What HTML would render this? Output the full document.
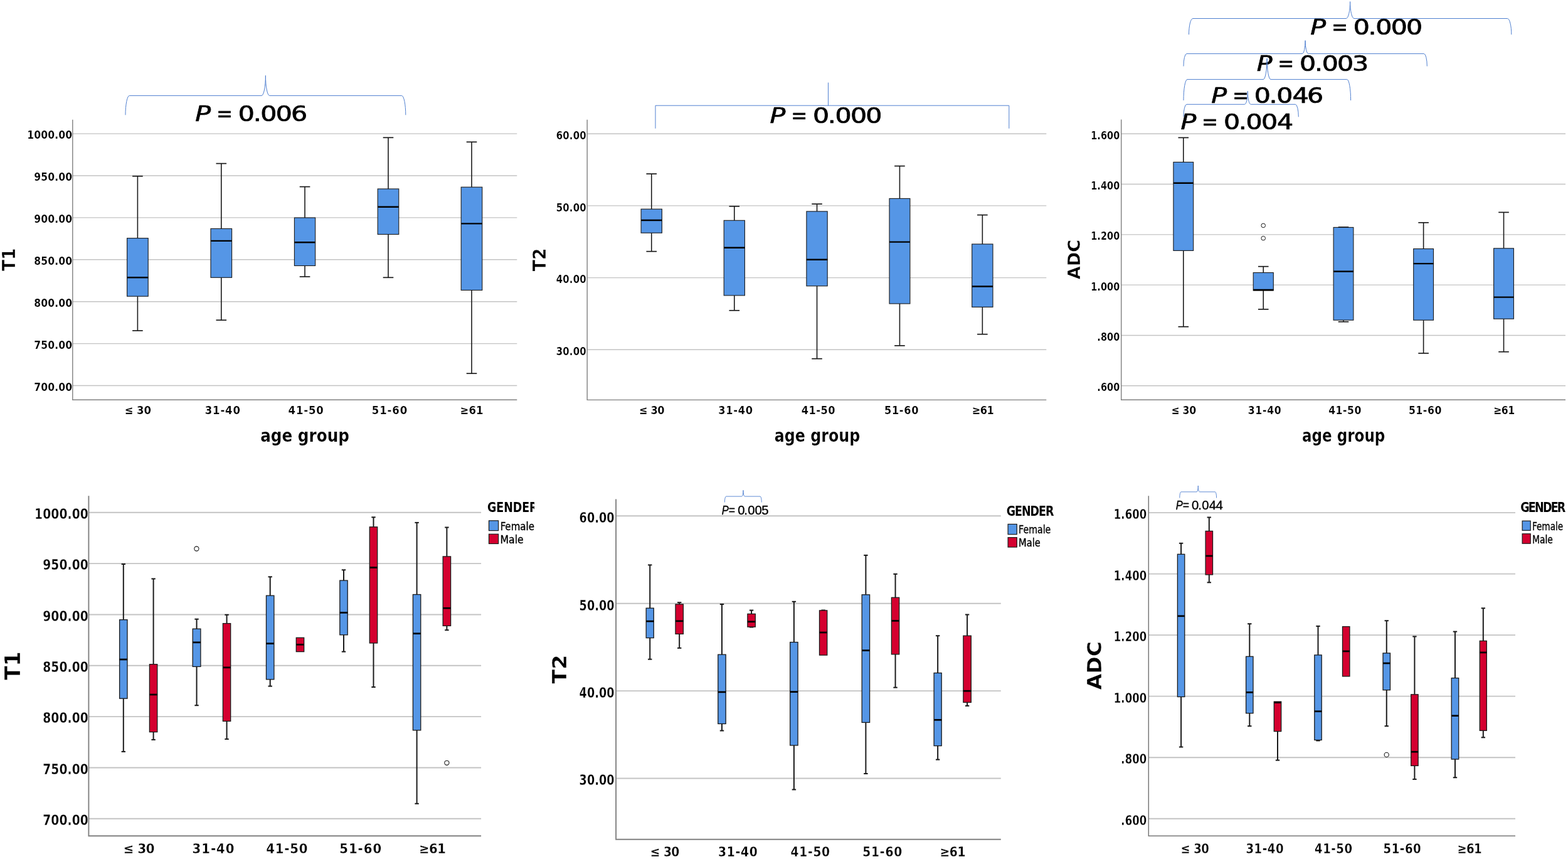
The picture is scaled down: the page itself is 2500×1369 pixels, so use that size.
<!DOCTYPE html>
<html lang="en"><head><meta charset="utf-8"><title>Box plots of T1, T2 and ADC by age group and gender</title>
<style>html,body{margin:0;padding:0;background:#fff;}body{width:2500px;height:1369px;overflow:hidden;}svg{display:block;}</style>
</head><body>
<svg width="2500" height="1369" viewBox="0 0 2500 1369">
<rect width="2500" height="1369" fill="#fff"/>
<g>
<line x1="115.8" y1="213.1" x2="824.3" y2="213.1" stroke="#c3c3c3" stroke-width="1.4"/>
<line x1="115.8" y1="280" x2="824.3" y2="280" stroke="#c3c3c3" stroke-width="1.4"/>
<line x1="115.8" y1="346.9" x2="824.3" y2="346.9" stroke="#c3c3c3" stroke-width="1.4"/>
<line x1="115.8" y1="413.8" x2="824.3" y2="413.8" stroke="#c3c3c3" stroke-width="1.4"/>
<line x1="115.8" y1="480.7" x2="824.3" y2="480.7" stroke="#c3c3c3" stroke-width="1.4"/>
<line x1="115.8" y1="547.6" x2="824.3" y2="547.6" stroke="#c3c3c3" stroke-width="1.4"/>
<line x1="115.8" y1="614.5" x2="824.3" y2="614.5" stroke="#c3c3c3" stroke-width="1.4"/>
<line x1="219.4" y1="280.8" x2="219.4" y2="379.6" stroke="#1a1a1a" stroke-width="1.6"/>
<line x1="211.1" y1="280.8" x2="227.7" y2="280.8" stroke="#1a1a1a" stroke-width="1.7"/>
<line x1="219.4" y1="472.2" x2="219.4" y2="527" stroke="#1a1a1a" stroke-width="1.6"/>
<line x1="211.1" y1="527" x2="227.7" y2="527" stroke="#1a1a1a" stroke-width="1.7"/>
<rect x="202.6" y="379.6" width="33.6" height="92.6" fill="#5596e6" stroke="#1a1a1a" stroke-width="1.1"/>
<line x1="202.6" y1="442.3" x2="236.2" y2="442.3" stroke="#000" stroke-width="2.4"/>
<line x1="352.8" y1="260.6" x2="352.8" y2="364.4" stroke="#1a1a1a" stroke-width="1.6"/>
<line x1="344.5" y1="260.6" x2="361.1" y2="260.6" stroke="#1a1a1a" stroke-width="1.7"/>
<line x1="352.8" y1="442.3" x2="352.8" y2="510.2" stroke="#1a1a1a" stroke-width="1.6"/>
<line x1="344.5" y1="510.2" x2="361.1" y2="510.2" stroke="#1a1a1a" stroke-width="1.7"/>
<rect x="336" y="364.4" width="33.6" height="77.9" fill="#5596e6" stroke="#1a1a1a" stroke-width="1.1"/>
<line x1="336" y1="383.9" x2="369.6" y2="383.9" stroke="#000" stroke-width="2.4"/>
<line x1="486.05" y1="297.6" x2="486.05" y2="347" stroke="#1a1a1a" stroke-width="1.6"/>
<line x1="477.75" y1="297.6" x2="494.35" y2="297.6" stroke="#1a1a1a" stroke-width="1.7"/>
<line x1="486.05" y1="423.5" x2="486.05" y2="441" stroke="#1a1a1a" stroke-width="1.6"/>
<line x1="477.75" y1="441" x2="494.35" y2="441" stroke="#1a1a1a" stroke-width="1.7"/>
<rect x="469.4" y="347" width="33.3" height="76.5" fill="#5596e6" stroke="#1a1a1a" stroke-width="1.1"/>
<line x1="469.4" y1="386.3" x2="502.7" y2="386.3" stroke="#000" stroke-width="2.4"/>
<line x1="619" y1="219.3" x2="619" y2="301" stroke="#1a1a1a" stroke-width="1.6"/>
<line x1="610.7" y1="219.3" x2="627.3" y2="219.3" stroke="#1a1a1a" stroke-width="1.7"/>
<line x1="619" y1="373.5" x2="619" y2="442.3" stroke="#1a1a1a" stroke-width="1.6"/>
<line x1="610.7" y1="442.3" x2="627.3" y2="442.3" stroke="#1a1a1a" stroke-width="1.7"/>
<rect x="602.2" y="301" width="33.6" height="72.5" fill="#5596e6" stroke="#1a1a1a" stroke-width="1.1"/>
<line x1="602.2" y1="329.8" x2="635.8" y2="329.8" stroke="#000" stroke-width="2.4"/>
<line x1="752" y1="226.3" x2="752" y2="298.2" stroke="#1a1a1a" stroke-width="1.6"/>
<line x1="743.7" y1="226.3" x2="760.3" y2="226.3" stroke="#1a1a1a" stroke-width="1.7"/>
<line x1="752" y1="462.5" x2="752" y2="595.2" stroke="#1a1a1a" stroke-width="1.6"/>
<line x1="743.7" y1="595.2" x2="760.3" y2="595.2" stroke="#1a1a1a" stroke-width="1.7"/>
<rect x="735.2" y="298.2" width="33.6" height="164.3" fill="#5596e6" stroke="#1a1a1a" stroke-width="1.1"/>
<line x1="735.2" y1="356.4" x2="768.8" y2="356.4" stroke="#000" stroke-width="2.4"/>
<path d="M115.8 190.7 V637.3 H824.3" fill="none" stroke="#808080" stroke-width="1.4"/>
<text transform="translate(43.24 221.4) scale(0.9496 1)" font-family="'DejaVu Sans Condensed', 'Liberation Sans', sans-serif" font-size="18.3" font-weight="bold" letter-spacing="0.12" stroke="#fff" stroke-width="0.2" xml:space="preserve">1000.00</text>
<text transform="translate(54.24 288.3) scale(0.9496 1)" font-family="'DejaVu Sans Condensed', 'Liberation Sans', sans-serif" font-size="18.3" font-weight="bold" letter-spacing="0.12" stroke="#fff" stroke-width="0.2" xml:space="preserve">950.00</text>
<text transform="translate(54.24 355.2) scale(0.9496 1)" font-family="'DejaVu Sans Condensed', 'Liberation Sans', sans-serif" font-size="18.3" font-weight="bold" letter-spacing="0.12" stroke="#fff" stroke-width="0.2" xml:space="preserve">900.00</text>
<text transform="translate(54.24 422.1) scale(0.9496 1)" font-family="'DejaVu Sans Condensed', 'Liberation Sans', sans-serif" font-size="18.3" font-weight="bold" letter-spacing="0.12" stroke="#fff" stroke-width="0.2" xml:space="preserve">850.00</text>
<text transform="translate(54.24 489) scale(0.9496 1)" font-family="'DejaVu Sans Condensed', 'Liberation Sans', sans-serif" font-size="18.3" font-weight="bold" letter-spacing="0.12" stroke="#fff" stroke-width="0.2" xml:space="preserve">800.00</text>
<text transform="translate(54.24 555.9) scale(0.9496 1)" font-family="'DejaVu Sans Condensed', 'Liberation Sans', sans-serif" font-size="18.3" font-weight="bold" letter-spacing="0.12" stroke="#fff" stroke-width="0.2" xml:space="preserve">750.00</text>
<text transform="translate(54.24 622.8) scale(0.9496 1)" font-family="'DejaVu Sans Condensed', 'Liberation Sans', sans-serif" font-size="18.3" font-weight="bold" letter-spacing="0.12" stroke="#fff" stroke-width="0.2" xml:space="preserve">700.00</text>
<text transform="translate(198.75 660.3) scale(1.0000 1)" font-family="'DejaVu Sans Condensed', 'Liberation Sans', sans-serif" font-size="18.4" font-weight="bold" letter-spacing="-0.14" stroke="#fff" stroke-width="0.2" xml:space="preserve">≤ 30</text>
<text transform="translate(326.69 660.3) scale(1.0000 1)" font-family="'DejaVu Sans Condensed', 'Liberation Sans', sans-serif" font-size="18.4" font-weight="bold" letter-spacing="0.84" stroke="#fff" stroke-width="0.2" xml:space="preserve">31-40</text>
<text transform="translate(459.56 660.3) scale(1.0000 1)" font-family="'DejaVu Sans Condensed', 'Liberation Sans', sans-serif" font-size="18.4" font-weight="bold" letter-spacing="0.84" stroke="#fff" stroke-width="0.2" xml:space="preserve">41-50</text>
<text transform="translate(592.82 660.3) scale(1.0000 1)" font-family="'DejaVu Sans Condensed', 'Liberation Sans', sans-serif" font-size="18.4" font-weight="bold" letter-spacing="0.88" stroke="#fff" stroke-width="0.2" xml:space="preserve">51-60</text>
<text transform="translate(733.45 660.3) scale(1.0000 1)" font-family="'DejaVu Sans Condensed', 'Liberation Sans', sans-serif" font-size="18.4" font-weight="bold" letter-spacing="0.14" stroke="#fff" stroke-width="0.2" xml:space="preserve">≥61</text>
<text transform="translate(415.14 703.8) scale(0.9774 1)" font-family="'DejaVu Sans Condensed', 'Liberation Sans', sans-serif" font-size="28.1" font-weight="bold" stroke="#fff" stroke-width="0.2" xml:space="preserve">age group</text>
<text transform="translate(24.2 432.03) rotate(-90) scale(1.0184 1)" font-family="'DejaVu Sans Condensed', 'Liberation Sans', sans-serif" font-size="28.86" font-weight="bold" stroke="#fff" stroke-width="0.35" xml:space="preserve">T1</text>
</g>
<text transform="translate(0 192.55) scale(1.2493 1)" font-family="'DejaVu Sans', sans-serif" font-size="32.92" stroke="#000" stroke-width="0.7" stroke-linejoin="round" xml:space="preserve"><tspan x="249.2" font-style="italic">P</tspan><tspan x="264.95"> </tspan><tspan x="276.31" textLength="20.49" lengthAdjust="spacingAndGlyphs">=</tspan><tspan x="293.48 303.95 323.09 332.44 351.97 371.38"> 0.006</tspan></text>
<path d="M200 183.3 A6.4 30.9 0 0 1 206.4 152.4 L417 152.4 A6.4 32 0 0 0 423.4 120.4 A6.4 32 0 0 0 429.8 152.4 L640.4 152.4 A6.4 30.9 0 0 1 646.8 183.3" fill="none" stroke="#4f7fd0" stroke-width="1"/>
<g>
<line x1="936.2" y1="213.2" x2="1668.3" y2="213.2" stroke="#c3c3c3" stroke-width="1.4"/>
<line x1="936.2" y1="327.9" x2="1668.3" y2="327.9" stroke="#c3c3c3" stroke-width="1.4"/>
<line x1="936.2" y1="442.6" x2="1668.3" y2="442.6" stroke="#c3c3c3" stroke-width="1.4"/>
<line x1="936.2" y1="557.3" x2="1668.3" y2="557.3" stroke="#c3c3c3" stroke-width="1.4"/>
<line x1="1038.75" y1="277.1" x2="1038.75" y2="333.2" stroke="#1a1a1a" stroke-width="1.6"/>
<line x1="1030.45" y1="277.1" x2="1047.05" y2="277.1" stroke="#1a1a1a" stroke-width="1.7"/>
<line x1="1038.75" y1="371.2" x2="1038.75" y2="400.7" stroke="#1a1a1a" stroke-width="1.6"/>
<line x1="1030.45" y1="400.7" x2="1047.05" y2="400.7" stroke="#1a1a1a" stroke-width="1.7"/>
<rect x="1022.1" y="333.2" width="33.3" height="38" fill="#5596e6" stroke="#1a1a1a" stroke-width="1.1"/>
<line x1="1022.1" y1="351" x2="1055.4" y2="351" stroke="#000" stroke-width="2.4"/>
<line x1="1170.8" y1="328.8" x2="1170.8" y2="351.3" stroke="#1a1a1a" stroke-width="1.6"/>
<line x1="1162.5" y1="328.8" x2="1179.1" y2="328.8" stroke="#1a1a1a" stroke-width="1.7"/>
<line x1="1170.8" y1="470.9" x2="1170.8" y2="494.8" stroke="#1a1a1a" stroke-width="1.6"/>
<line x1="1162.5" y1="494.8" x2="1179.1" y2="494.8" stroke="#1a1a1a" stroke-width="1.7"/>
<rect x="1154.2" y="351.3" width="33.2" height="119.6" fill="#5596e6" stroke="#1a1a1a" stroke-width="1.1"/>
<line x1="1154.2" y1="394.7" x2="1187.4" y2="394.7" stroke="#000" stroke-width="2.4"/>
<line x1="1302.55" y1="325.1" x2="1302.55" y2="336.9" stroke="#1a1a1a" stroke-width="1.6"/>
<line x1="1294.25" y1="325.1" x2="1310.85" y2="325.1" stroke="#1a1a1a" stroke-width="1.7"/>
<line x1="1302.55" y1="455.8" x2="1302.55" y2="571.7" stroke="#1a1a1a" stroke-width="1.6"/>
<line x1="1294.25" y1="571.7" x2="1310.85" y2="571.7" stroke="#1a1a1a" stroke-width="1.7"/>
<rect x="1285.9" y="336.9" width="33.3" height="118.9" fill="#5596e6" stroke="#1a1a1a" stroke-width="1.1"/>
<line x1="1285.9" y1="413.8" x2="1319.2" y2="413.8" stroke="#000" stroke-width="2.4"/>
<line x1="1434.45" y1="264.6" x2="1434.45" y2="316.4" stroke="#1a1a1a" stroke-width="1.6"/>
<line x1="1426.15" y1="264.6" x2="1442.75" y2="264.6" stroke="#1a1a1a" stroke-width="1.7"/>
<line x1="1434.45" y1="484" x2="1434.45" y2="550.9" stroke="#1a1a1a" stroke-width="1.6"/>
<line x1="1426.15" y1="550.9" x2="1442.75" y2="550.9" stroke="#1a1a1a" stroke-width="1.7"/>
<rect x="1418" y="316.4" width="32.9" height="167.6" fill="#5596e6" stroke="#1a1a1a" stroke-width="1.1"/>
<line x1="1418" y1="385.6" x2="1450.9" y2="385.6" stroke="#000" stroke-width="2.4"/>
<line x1="1566.35" y1="342.6" x2="1566.35" y2="389" stroke="#1a1a1a" stroke-width="1.6"/>
<line x1="1558.05" y1="342.6" x2="1574.65" y2="342.6" stroke="#1a1a1a" stroke-width="1.7"/>
<line x1="1566.35" y1="489.4" x2="1566.35" y2="532.7" stroke="#1a1a1a" stroke-width="1.6"/>
<line x1="1558.05" y1="532.7" x2="1574.65" y2="532.7" stroke="#1a1a1a" stroke-width="1.7"/>
<rect x="1549.7" y="389" width="33.3" height="100.4" fill="#5596e6" stroke="#1a1a1a" stroke-width="1.1"/>
<line x1="1549.7" y1="456.5" x2="1583" y2="456.5" stroke="#000" stroke-width="2.4"/>
<path d="M936.2 190.7 V637.4 H1668.3" fill="none" stroke="#808080" stroke-width="1.4"/>
<text transform="translate(886.85 221.8) scale(0.9087 1)" font-family="'DejaVu Sans Condensed', 'Liberation Sans', sans-serif" font-size="18.3" font-weight="bold" letter-spacing="0.12" stroke="#fff" stroke-width="0.2" xml:space="preserve">60.00</text>
<text transform="translate(886.85 336.5) scale(0.9087 1)" font-family="'DejaVu Sans Condensed', 'Liberation Sans', sans-serif" font-size="18.3" font-weight="bold" letter-spacing="0.12" stroke="#fff" stroke-width="0.2" xml:space="preserve">50.00</text>
<text transform="translate(886.85 451.2) scale(0.9087 1)" font-family="'DejaVu Sans Condensed', 'Liberation Sans', sans-serif" font-size="18.3" font-weight="bold" letter-spacing="0.12" stroke="#fff" stroke-width="0.2" xml:space="preserve">40.00</text>
<text transform="translate(886.85 565.9) scale(0.9087 1)" font-family="'DejaVu Sans Condensed', 'Liberation Sans', sans-serif" font-size="18.3" font-weight="bold" letter-spacing="0.12" stroke="#fff" stroke-width="0.2" xml:space="preserve">30.00</text>
<text transform="translate(1019.08 660.4) scale(0.9800 1)" font-family="'DejaVu Sans Condensed', 'Liberation Sans', sans-serif" font-size="18.4" font-weight="bold" letter-spacing="-0.45" stroke="#fff" stroke-width="0.2" xml:space="preserve">≤ 30</text>
<text transform="translate(1145.32 660.4) scale(0.9800 1)" font-family="'DejaVu Sans Condensed', 'Liberation Sans', sans-serif" font-size="18.4" font-weight="bold" letter-spacing="0.7" stroke="#fff" stroke-width="0.2" xml:space="preserve">31-40</text>
<text transform="translate(1277.78 660.4) scale(0.9800 1)" font-family="'DejaVu Sans Condensed', 'Liberation Sans', sans-serif" font-size="18.4" font-weight="bold" letter-spacing="0.51" stroke="#fff" stroke-width="0.2" xml:space="preserve">41-50</text>
<text transform="translate(1409.95 660.4) scale(0.9800 1)" font-family="'DejaVu Sans Condensed', 'Liberation Sans', sans-serif" font-size="18.4" font-weight="bold" letter-spacing="0.67" stroke="#fff" stroke-width="0.2" xml:space="preserve">51-60</text>
<text transform="translate(1549.68 660.4) scale(0.9800 1)" font-family="'DejaVu Sans Condensed', 'Liberation Sans', sans-serif" font-size="18.4" font-weight="bold" letter-spacing="-0.58" stroke="#fff" stroke-width="0.2" xml:space="preserve">≥61</text>
<text transform="translate(1234.78 703.8) scale(0.9403 1)" font-family="'DejaVu Sans Condensed', 'Liberation Sans', sans-serif" font-size="28.1" font-weight="bold" stroke="#fff" stroke-width="0.2" xml:space="preserve">age group</text>
<text transform="translate(869.6 432.13) rotate(-90) scale(1.0320 1)" font-family="'DejaVu Sans Condensed', 'Liberation Sans', sans-serif" font-size="28.46" font-weight="bold" stroke="#fff" stroke-width="0.35" xml:space="preserve">T2</text>
</g>
<path d="M1045 204.8 V168.2 H1608.8 V204.8 M1320.5 168.2 V131.6" fill="none" stroke="#4f7fd0" stroke-width="1"/>
<text transform="translate(0 195.75) scale(1.2493 1)" font-family="'DejaVu Sans', sans-serif" font-size="32.92" stroke="#000" stroke-width="0.7" stroke-linejoin="round" xml:space="preserve"><tspan x="982.57" font-style="italic">P</tspan><tspan x="998.31"> </tspan><tspan x="1009.68" textLength="20.49" lengthAdjust="spacingAndGlyphs">=</tspan><tspan x="1026.85 1037.31 1056.45 1065.81 1085.34 1104.87"> 0.000</tspan></text>
<g>
<line x1="1787.7" y1="213.2" x2="2496" y2="213.2" stroke="#c3c3c3" stroke-width="1.4"/>
<line x1="1787.7" y1="293.52" x2="2496" y2="293.52" stroke="#c3c3c3" stroke-width="1.4"/>
<line x1="1787.7" y1="373.84" x2="2496" y2="373.84" stroke="#c3c3c3" stroke-width="1.4"/>
<line x1="1787.7" y1="454.16" x2="2496" y2="454.16" stroke="#c3c3c3" stroke-width="1.4"/>
<line x1="1787.7" y1="534.48" x2="2496" y2="534.48" stroke="#c3c3c3" stroke-width="1.4"/>
<line x1="1787.7" y1="614.8" x2="2496" y2="614.8" stroke="#c3c3c3" stroke-width="1.4"/>
<line x1="1886.8" y1="219.4" x2="1886.8" y2="258.4" stroke="#1a1a1a" stroke-width="1.6"/>
<line x1="1878.5" y1="219.4" x2="1895.1" y2="219.4" stroke="#1a1a1a" stroke-width="1.7"/>
<line x1="1886.8" y1="399.4" x2="1886.8" y2="520.7" stroke="#1a1a1a" stroke-width="1.6"/>
<line x1="1878.5" y1="520.7" x2="1895.1" y2="520.7" stroke="#1a1a1a" stroke-width="1.7"/>
<rect x="1870.9" y="258.4" width="31.8" height="141" fill="#5596e6" stroke="#1a1a1a" stroke-width="1.1"/>
<line x1="1870.9" y1="291.8" x2="1902.7" y2="291.8" stroke="#000" stroke-width="2.4"/>
<line x1="2014.25" y1="424.7" x2="2014.25" y2="434.5" stroke="#1a1a1a" stroke-width="1.6"/>
<line x1="2005.95" y1="424.7" x2="2022.55" y2="424.7" stroke="#1a1a1a" stroke-width="1.7"/>
<line x1="2014.25" y1="463" x2="2014.25" y2="492.9" stroke="#1a1a1a" stroke-width="1.6"/>
<line x1="2005.95" y1="492.9" x2="2022.55" y2="492.9" stroke="#1a1a1a" stroke-width="1.7"/>
<rect x="1998.2" y="434.5" width="32.1" height="28.5" fill="#5596e6" stroke="#1a1a1a" stroke-width="1.1"/>
<line x1="1998.2" y1="462" x2="2030.3" y2="462" stroke="#000" stroke-width="2.4"/>
<line x1="2142" y1="362" x2="2142" y2="362.4" stroke="#1a1a1a" stroke-width="1.6"/>
<line x1="2133.7" y1="362" x2="2150.3" y2="362" stroke="#1a1a1a" stroke-width="1.7"/>
<line x1="2142" y1="510.2" x2="2142" y2="512.8" stroke="#1a1a1a" stroke-width="1.6"/>
<line x1="2133.7" y1="512.8" x2="2150.3" y2="512.8" stroke="#1a1a1a" stroke-width="1.7"/>
<rect x="2126.1" y="362.4" width="31.8" height="147.8" fill="#5596e6" stroke="#1a1a1a" stroke-width="1.1"/>
<line x1="2126.1" y1="432.6" x2="2157.9" y2="432.6" stroke="#000" stroke-width="2.4"/>
<line x1="2269.6" y1="354.8" x2="2269.6" y2="396.5" stroke="#1a1a1a" stroke-width="1.6"/>
<line x1="2261.3" y1="354.8" x2="2277.9" y2="354.8" stroke="#1a1a1a" stroke-width="1.7"/>
<line x1="2269.6" y1="510.2" x2="2269.6" y2="563" stroke="#1a1a1a" stroke-width="1.6"/>
<line x1="2261.3" y1="563" x2="2277.9" y2="563" stroke="#1a1a1a" stroke-width="1.7"/>
<rect x="2253.7" y="396.5" width="31.8" height="113.7" fill="#5596e6" stroke="#1a1a1a" stroke-width="1.1"/>
<line x1="2253.7" y1="420.1" x2="2285.5" y2="420.1" stroke="#000" stroke-width="2.4"/>
<line x1="2397.5" y1="338.4" x2="2397.5" y2="395.8" stroke="#1a1a1a" stroke-width="1.6"/>
<line x1="2389.2" y1="338.4" x2="2405.8" y2="338.4" stroke="#1a1a1a" stroke-width="1.7"/>
<line x1="2397.5" y1="508.2" x2="2397.5" y2="560.7" stroke="#1a1a1a" stroke-width="1.6"/>
<line x1="2389.2" y1="560.7" x2="2405.8" y2="560.7" stroke="#1a1a1a" stroke-width="1.7"/>
<rect x="2381.6" y="395.8" width="31.8" height="112.4" fill="#5596e6" stroke="#1a1a1a" stroke-width="1.1"/>
<line x1="2381.6" y1="473.6" x2="2413.4" y2="473.6" stroke="#000" stroke-width="2.4"/>
<circle cx="2014.2" cy="359.4" r="3.3" fill="#fff" stroke="#1a1a1a" stroke-width="1"/>
<circle cx="2014.2" cy="379.7" r="3.3" fill="#fff" stroke="#1a1a1a" stroke-width="1"/>
<path d="M1787.7 190.6 V637.3 H2496" fill="none" stroke="#808080" stroke-width="1.4"/>
<text transform="translate(1739.17 221.8) scale(0.9349 1)" font-family="'DejaVu Sans Condensed', 'Liberation Sans', sans-serif" font-size="17.2" font-weight="bold" letter-spacing="0.12" stroke="#fff" stroke-width="0.2" xml:space="preserve">1.600</text>
<text transform="translate(1739.17 302.12) scale(0.9349 1)" font-family="'DejaVu Sans Condensed', 'Liberation Sans', sans-serif" font-size="17.2" font-weight="bold" letter-spacing="0.12" stroke="#fff" stroke-width="0.2" xml:space="preserve">1.400</text>
<text transform="translate(1739.17 382.44) scale(0.9349 1)" font-family="'DejaVu Sans Condensed', 'Liberation Sans', sans-serif" font-size="17.2" font-weight="bold" letter-spacing="0.12" stroke="#fff" stroke-width="0.2" xml:space="preserve">1.200</text>
<text transform="translate(1739.17 462.76) scale(0.9349 1)" font-family="'DejaVu Sans Condensed', 'Liberation Sans', sans-serif" font-size="17.2" font-weight="bold" letter-spacing="0.12" stroke="#fff" stroke-width="0.2" xml:space="preserve">1.000</text>
<text transform="translate(1749.35 543.08) scale(0.9349 1)" font-family="'DejaVu Sans Condensed', 'Liberation Sans', sans-serif" font-size="17.2" font-weight="bold" letter-spacing="0.12" stroke="#fff" stroke-width="0.2" xml:space="preserve">.800</text>
<text transform="translate(1749.35 623.4) scale(0.9349 1)" font-family="'DejaVu Sans Condensed', 'Liberation Sans', sans-serif" font-size="17.2" font-weight="bold" letter-spacing="0.12" stroke="#fff" stroke-width="0.2" xml:space="preserve">.600</text>
<text transform="translate(1867.54 660.4) scale(0.9500 1)" font-family="'DejaVu Sans Condensed', 'Liberation Sans', sans-serif" font-size="18.4" font-weight="bold" letter-spacing="-0.33" stroke="#fff" stroke-width="0.2" xml:space="preserve">≤ 30</text>
<text transform="translate(1989.75 660.4) scale(0.9500 1)" font-family="'DejaVu Sans Condensed', 'Liberation Sans', sans-serif" font-size="18.4" font-weight="bold" letter-spacing="0.71" stroke="#fff" stroke-width="0.2" xml:space="preserve">31-40</text>
<text transform="translate(2118.2 660.4) scale(0.9500 1)" font-family="'DejaVu Sans Condensed', 'Liberation Sans', sans-serif" font-size="18.4" font-weight="bold" letter-spacing="0.51" stroke="#fff" stroke-width="0.2" xml:space="preserve">41-50</text>
<text transform="translate(2245.89 660.4) scale(0.9500 1)" font-family="'DejaVu Sans Condensed', 'Liberation Sans', sans-serif" font-size="18.4" font-weight="bold" letter-spacing="0.57" stroke="#fff" stroke-width="0.2" xml:space="preserve">51-60</text>
<text transform="translate(2381.24 660.4) scale(0.9500 1)" font-family="'DejaVu Sans Condensed', 'Liberation Sans', sans-serif" font-size="18.4" font-weight="bold" letter-spacing="-0.59" stroke="#fff" stroke-width="0.2" xml:space="preserve">≥61</text>
<text transform="translate(2075.91 703.8) scale(0.9130 1)" font-family="'DejaVu Sans Condensed', 'Liberation Sans', sans-serif" font-size="28.1" font-weight="bold" stroke="#fff" stroke-width="0.2" xml:space="preserve">age group</text>
<text transform="translate(1721.6 445.23) rotate(-90) scale(1.1090 1)" font-family="'DejaVu Sans Condensed', 'Liberation Sans', sans-serif" font-size="27.11" font-weight="bold" stroke="#fff" stroke-width="0.35" xml:space="preserve">ADC</text>
</g>
<path d="M1895.5 55.1 A6.4 25.6 0 0 1 1901.9 29.5 L2146.2 29.5 A6.4 26.9 0 0 0 2152.6 2.6 A6.4 26.9 0 0 0 2159 29.5 L2403.4 29.5 A6.4 25.6 0 0 1 2409.8 55.1" fill="none" stroke="#4f7fd0" stroke-width="1"/>
<text transform="translate(0 55.05) scale(1.2493 1)" font-family="'DejaVu Sans', sans-serif" font-size="32.92" stroke="#000" stroke-width="0.7" stroke-linejoin="round" xml:space="preserve"><tspan x="1672.39" font-style="italic">P</tspan><tspan x="1688.13"> </tspan><tspan x="1699.49" textLength="20.49" lengthAdjust="spacingAndGlyphs">=</tspan><tspan x="1716.67 1727.13 1746.27 1755.63 1775.16 1794.69"> 0.000</tspan></text>
<path d="M1887 105.6 A5 20 0 0 1 1892 85.6 L2076.1 85.6 A5 21 0 0 0 2081.1 64.6 A5 21 0 0 0 2086.1 85.6 L2270.3 85.6 A5 20 0 0 1 2275.3 105.6" fill="none" stroke="#4f7fd0" stroke-width="1"/>
<text transform="translate(0 113.05) scale(1.2493 1)" font-family="'DejaVu Sans', sans-serif" font-size="32.92" stroke="#000" stroke-width="0.7" stroke-linejoin="round" xml:space="preserve"><tspan x="1603.87" font-style="italic">P</tspan><tspan x="1619.61"> </tspan><tspan x="1630.98" textLength="20.49" lengthAdjust="spacingAndGlyphs">=</tspan><tspan x="1648.15 1658.61 1677.75 1687.11 1706.64 1725.83"> 0.003</tspan></text>
<path d="M1887 160 A6 33.4 0 0 1 1893 126.6 L2014.1 126.6 A6 33.4 0 0 0 2020.1 93.2 A6 33.4 0 0 0 2026.1 126.6 L2147.6 126.6 A6 33.4 0 0 1 2153.6 160" fill="none" stroke="#4f7fd0" stroke-width="1"/>
<text transform="translate(0 164.25) scale(1.2493 1)" font-family="'DejaVu Sans', sans-serif" font-size="32.92" stroke="#000" stroke-width="0.7" stroke-linejoin="round" xml:space="preserve"><tspan x="1545.92" font-style="italic">P</tspan><tspan x="1561.66"> </tspan><tspan x="1573.02" textLength="20.49" lengthAdjust="spacingAndGlyphs">=</tspan><tspan x="1590.2 1600.66 1619.8 1629.16 1649.25 1668.09"> 0.046</tspan></text>
<path d="M1887 186.3 A5 20 0 0 1 1892 166.3 L1984.3 166.3 A5 20.9 0 0 0 1989.3 145.4 A5 20.9 0 0 0 1994.3 166.3 L2065.3 166.3 A5 20 0 0 1 2070.3 186.3" fill="none" stroke="#4f7fd0" stroke-width="1"/>
<text transform="translate(0 206.25) scale(1.2493 1)" font-family="'DejaVu Sans', sans-serif" font-size="32.92" stroke="#000" stroke-width="0.7" stroke-linejoin="round" xml:space="preserve"><tspan x="1506.85" font-style="italic">P</tspan><tspan x="1522.6"> </tspan><tspan x="1533.96" textLength="20.49" lengthAdjust="spacingAndGlyphs">=</tspan><tspan x="1551.13 1561.6 1580.74 1590.1 1609.63 1629.72"> 0.004</tspan></text>
<g>
<line x1="141.4" y1="816.8" x2="767.1" y2="816.8" stroke="#c3c3c3" stroke-width="1.9"/>
<line x1="141.4" y1="898.13" x2="767.1" y2="898.13" stroke="#c3c3c3" stroke-width="1.9"/>
<line x1="141.4" y1="979.47" x2="767.1" y2="979.47" stroke="#c3c3c3" stroke-width="1.9"/>
<line x1="141.4" y1="1060.8" x2="767.1" y2="1060.8" stroke="#c3c3c3" stroke-width="1.9"/>
<line x1="141.4" y1="1142.13" x2="767.1" y2="1142.13" stroke="#c3c3c3" stroke-width="1.9"/>
<line x1="141.4" y1="1223.47" x2="767.1" y2="1223.47" stroke="#c3c3c3" stroke-width="1.9"/>
<line x1="141.4" y1="1304.8" x2="767.1" y2="1304.8" stroke="#c3c3c3" stroke-width="1.9"/>
<line x1="196.8" y1="899" x2="196.8" y2="987.7" stroke="#1a1a1a" stroke-width="2"/>
<line x1="193.6" y1="899" x2="200" y2="899" stroke="#1a1a1a" stroke-width="2"/>
<line x1="196.8" y1="1113.2" x2="196.8" y2="1197.9" stroke="#1a1a1a" stroke-width="2"/>
<line x1="193.6" y1="1197.9" x2="200" y2="1197.9" stroke="#1a1a1a" stroke-width="2"/>
<rect x="190.6" y="987.7" width="12.4" height="125.5" fill="#5596e6" stroke="#1a1a1a" stroke-width="1.3"/>
<line x1="190.6" y1="1051" x2="203" y2="1051" stroke="#000" stroke-width="2.7"/>
<line x1="244.6" y1="922.4" x2="244.6" y2="1058.7" stroke="#1a1a1a" stroke-width="2"/>
<line x1="241.4" y1="922.4" x2="247.8" y2="922.4" stroke="#1a1a1a" stroke-width="2"/>
<line x1="244.6" y1="1166.6" x2="244.6" y2="1178.9" stroke="#1a1a1a" stroke-width="2"/>
<line x1="241.4" y1="1178.9" x2="247.8" y2="1178.9" stroke="#1a1a1a" stroke-width="2"/>
<rect x="238.4" y="1058.7" width="12.4" height="107.9" fill="#d4002f" stroke="#1a1a1a" stroke-width="1.3"/>
<line x1="238.4" y1="1107" x2="250.8" y2="1107" stroke="#000" stroke-width="2.7"/>
<line x1="313.55" y1="986.7" x2="313.55" y2="1002.2" stroke="#1a1a1a" stroke-width="2"/>
<line x1="310.35" y1="986.7" x2="316.75" y2="986.7" stroke="#1a1a1a" stroke-width="2"/>
<line x1="313.55" y1="1062.4" x2="313.55" y2="1124.2" stroke="#1a1a1a" stroke-width="2"/>
<line x1="310.35" y1="1124.2" x2="316.75" y2="1124.2" stroke="#1a1a1a" stroke-width="2"/>
<rect x="307.2" y="1002.2" width="12.7" height="60.2" fill="#5596e6" stroke="#1a1a1a" stroke-width="1.3"/>
<line x1="307.2" y1="1023.8" x2="319.9" y2="1023.8" stroke="#000" stroke-width="2.7"/>
<line x1="361.55" y1="979.8" x2="361.55" y2="993.6" stroke="#1a1a1a" stroke-width="2"/>
<line x1="358.35" y1="979.8" x2="364.75" y2="979.8" stroke="#1a1a1a" stroke-width="2"/>
<line x1="361.55" y1="1149.4" x2="361.55" y2="1177.9" stroke="#1a1a1a" stroke-width="2"/>
<line x1="358.35" y1="1177.9" x2="364.75" y2="1177.9" stroke="#1a1a1a" stroke-width="2"/>
<rect x="355.4" y="993.6" width="12.3" height="155.8" fill="#d4002f" stroke="#1a1a1a" stroke-width="1.3"/>
<line x1="355.4" y1="1063.8" x2="367.7" y2="1063.8" stroke="#000" stroke-width="2.7"/>
<line x1="430.7" y1="919.3" x2="430.7" y2="949.2" stroke="#1a1a1a" stroke-width="2"/>
<line x1="427.5" y1="919.3" x2="433.9" y2="919.3" stroke="#1a1a1a" stroke-width="2"/>
<line x1="430.7" y1="1082.8" x2="430.7" y2="1093.6" stroke="#1a1a1a" stroke-width="2"/>
<line x1="427.5" y1="1093.6" x2="433.9" y2="1093.6" stroke="#1a1a1a" stroke-width="2"/>
<rect x="424.5" y="949.2" width="12.4" height="133.6" fill="#5596e6" stroke="#1a1a1a" stroke-width="1.3"/>
<line x1="424.5" y1="1025.6" x2="436.9" y2="1025.6" stroke="#000" stroke-width="2.7"/>
<rect x="472.3" y="1016.3" width="12.4" height="22.3" fill="#d4002f" stroke="#1a1a1a" stroke-width="1.3"/>
<line x1="472.3" y1="1027.3" x2="484.7" y2="1027.3" stroke="#000" stroke-width="2.7"/>
<line x1="548" y1="908.3" x2="548" y2="925.1" stroke="#1a1a1a" stroke-width="2"/>
<line x1="544.8" y1="908.3" x2="551.2" y2="908.3" stroke="#1a1a1a" stroke-width="2"/>
<line x1="548" y1="1011.8" x2="548" y2="1038.6" stroke="#1a1a1a" stroke-width="2"/>
<line x1="544.8" y1="1038.6" x2="551.2" y2="1038.6" stroke="#1a1a1a" stroke-width="2"/>
<rect x="541.8" y="925.1" width="12.4" height="86.7" fill="#5596e6" stroke="#1a1a1a" stroke-width="1.3"/>
<line x1="541.8" y1="976.4" x2="554.2" y2="976.4" stroke="#000" stroke-width="2.7"/>
<line x1="595.5" y1="824.3" x2="595.5" y2="839.8" stroke="#1a1a1a" stroke-width="2"/>
<line x1="592.3" y1="824.3" x2="598.7" y2="824.3" stroke="#1a1a1a" stroke-width="2"/>
<line x1="595.5" y1="1024.9" x2="595.5" y2="1095" stroke="#1a1a1a" stroke-width="2"/>
<line x1="592.3" y1="1095" x2="598.7" y2="1095" stroke="#1a1a1a" stroke-width="2"/>
<rect x="589.3" y="839.8" width="12.4" height="185.1" fill="#d4002f" stroke="#1a1a1a" stroke-width="1.3"/>
<line x1="589.3" y1="904.5" x2="601.7" y2="904.5" stroke="#000" stroke-width="2.7"/>
<line x1="664.6" y1="832.9" x2="664.6" y2="947.5" stroke="#1a1a1a" stroke-width="2"/>
<line x1="661.4" y1="832.9" x2="667.8" y2="832.9" stroke="#1a1a1a" stroke-width="2"/>
<line x1="664.6" y1="1163.8" x2="664.6" y2="1280.8" stroke="#1a1a1a" stroke-width="2"/>
<line x1="661.4" y1="1280.8" x2="667.8" y2="1280.8" stroke="#1a1a1a" stroke-width="2"/>
<rect x="658.4" y="947.5" width="12.4" height="216.3" fill="#5596e6" stroke="#1a1a1a" stroke-width="1.3"/>
<line x1="658.4" y1="1009.7" x2="670.8" y2="1009.7" stroke="#000" stroke-width="2.7"/>
<line x1="712.4" y1="840.5" x2="712.4" y2="886.9" stroke="#1a1a1a" stroke-width="2"/>
<line x1="709.2" y1="840.5" x2="715.6" y2="840.5" stroke="#1a1a1a" stroke-width="2"/>
<line x1="712.4" y1="997.4" x2="712.4" y2="1004.2" stroke="#1a1a1a" stroke-width="2"/>
<line x1="709.2" y1="1004.2" x2="715.6" y2="1004.2" stroke="#1a1a1a" stroke-width="2"/>
<rect x="706.2" y="886.9" width="12.4" height="110.5" fill="#d4002f" stroke="#1a1a1a" stroke-width="1.3"/>
<line x1="706.2" y1="969.2" x2="718.6" y2="969.2" stroke="#000" stroke-width="2.7"/>
<circle cx="313.4" cy="874.5" r="3.6" fill="#fff" stroke="#1a1a1a" stroke-width="1.1"/>
<circle cx="712.4" cy="1215.8" r="3.6" fill="#fff" stroke="#1a1a1a" stroke-width="1.1"/>
<path d="M141.4 790.3 V1332.3 H767.1" fill="none" stroke="#808080" stroke-width="1.9"/>
<text transform="translate(55.1 827.1) scale(0.9356 1)" font-family="'DejaVu Sans Condensed', 'Liberation Sans', sans-serif" font-size="22.2" font-weight="bold" letter-spacing="0.12" stroke="#fff" stroke-width="0.3" xml:space="preserve">1000.00</text>
<text transform="translate(68.21 908.43) scale(0.9356 1)" font-family="'DejaVu Sans Condensed', 'Liberation Sans', sans-serif" font-size="22.2" font-weight="bold" letter-spacing="0.12" stroke="#fff" stroke-width="0.3" xml:space="preserve">950.00</text>
<text transform="translate(68.21 989.77) scale(0.9356 1)" font-family="'DejaVu Sans Condensed', 'Liberation Sans', sans-serif" font-size="22.2" font-weight="bold" letter-spacing="0.12" stroke="#fff" stroke-width="0.3" xml:space="preserve">900.00</text>
<text transform="translate(68.21 1071.1) scale(0.9356 1)" font-family="'DejaVu Sans Condensed', 'Liberation Sans', sans-serif" font-size="22.2" font-weight="bold" letter-spacing="0.12" stroke="#fff" stroke-width="0.3" xml:space="preserve">850.00</text>
<text transform="translate(68.21 1152.43) scale(0.9356 1)" font-family="'DejaVu Sans Condensed', 'Liberation Sans', sans-serif" font-size="22.2" font-weight="bold" letter-spacing="0.12" stroke="#fff" stroke-width="0.3" xml:space="preserve">800.00</text>
<text transform="translate(68.21 1233.77) scale(0.9356 1)" font-family="'DejaVu Sans Condensed', 'Liberation Sans', sans-serif" font-size="22.2" font-weight="bold" letter-spacing="0.12" stroke="#fff" stroke-width="0.3" xml:space="preserve">750.00</text>
<text transform="translate(68.21 1315.1) scale(0.9356 1)" font-family="'DejaVu Sans Condensed', 'Liberation Sans', sans-serif" font-size="22.2" font-weight="bold" letter-spacing="0.12" stroke="#fff" stroke-width="0.3" xml:space="preserve">700.00</text>
<text transform="translate(196.71 1360) scale(1.0000 1)" font-family="'DejaVu Sans Condensed', 'Liberation Sans', sans-serif" font-size="21.9" font-weight="bold" letter-spacing="-0.32" stroke="#fff" stroke-width="0.3" xml:space="preserve">≤ 30</text>
<text transform="translate(306.58 1360) scale(1.0000 1)" font-family="'DejaVu Sans Condensed', 'Liberation Sans', sans-serif" font-size="21.9" font-weight="bold" letter-spacing="0.96" stroke="#fff" stroke-width="0.3" xml:space="preserve">31-40</text>
<text transform="translate(424.32 1360) scale(1.0000 1)" font-family="'DejaVu Sans Condensed', 'Liberation Sans', sans-serif" font-size="21.9" font-weight="bold" letter-spacing="0.77" stroke="#fff" stroke-width="0.3" xml:space="preserve">41-50</text>
<text transform="translate(541.28 1360) scale(1.0000 1)" font-family="'DejaVu Sans Condensed', 'Liberation Sans', sans-serif" font-size="21.9" font-weight="bold" letter-spacing="0.96" stroke="#fff" stroke-width="0.3" xml:space="preserve">51-60</text>
<text transform="translate(668.01 1360) scale(1.0000 1)" font-family="'DejaVu Sans Condensed', 'Liberation Sans', sans-serif" font-size="21.9" font-weight="bold" letter-spacing="-0.45" stroke="#fff" stroke-width="0.3" xml:space="preserve">≥61</text>
<text transform="translate(32 1083.86) rotate(-90) scale(1.1068 1)" font-family="'DejaVu Sans Condensed', 'Liberation Sans', sans-serif" font-size="33.02" font-weight="bold" stroke="#fff" stroke-width="0.35" xml:space="preserve">T1</text>
</g>
<clipPath id="c4"><rect x="0" y="760" width="852" height="140"/></clipPath>
<g clip-path="url(#c4)">
<text transform="translate(776.94 816.3) scale(0.8800 1)" font-family="'DejaVu Sans Condensed', 'Liberation Sans', sans-serif" font-size="22.1" font-weight="bold" letter-spacing="-0.05" xml:space="preserve">GENDER</text>
<rect x="779.5" y="829.8" width="15.1" height="15.8" fill="#5596e6" stroke="#1a1a1a" stroke-width="1.2"/>
<rect x="779.5" y="851.2" width="15.1" height="15.3" fill="#d4002f" stroke="#1a1a1a" stroke-width="1.2"/>
<text transform="translate(797.63 844.6) scale(0.9402 1)" font-family="'DejaVu Sans Condensed', 'Liberation Sans', sans-serif" font-size="17.8" stroke="#000" stroke-width="0.35" xml:space="preserve">Female</text>
<text transform="translate(797.56 865.7) scale(0.9825 1)" font-family="'DejaVu Sans Condensed', 'Liberation Sans', sans-serif" font-size="17.8" stroke="#000" stroke-width="0.35" xml:space="preserve">Male</text>
</g>
<g>
<line x1="982.1" y1="822.3" x2="1595.8" y2="822.3" stroke="#c3c3c3" stroke-width="1.9"/>
<line x1="982.1" y1="961.7" x2="1595.8" y2="961.7" stroke="#c3c3c3" stroke-width="1.9"/>
<line x1="982.1" y1="1101.1" x2="1595.8" y2="1101.1" stroke="#c3c3c3" stroke-width="1.9"/>
<line x1="982.1" y1="1240.5" x2="1595.8" y2="1240.5" stroke="#c3c3c3" stroke-width="1.9"/>
<line x1="1036.25" y1="900.4" x2="1036.25" y2="969.2" stroke="#1a1a1a" stroke-width="2"/>
<line x1="1033.05" y1="900.4" x2="1039.45" y2="900.4" stroke="#1a1a1a" stroke-width="2"/>
<line x1="1036.25" y1="1016.6" x2="1036.25" y2="1050.7" stroke="#1a1a1a" stroke-width="2"/>
<line x1="1033.05" y1="1050.7" x2="1039.45" y2="1050.7" stroke="#1a1a1a" stroke-width="2"/>
<rect x="1030.2" y="969.2" width="12.1" height="47.4" fill="#5596e6" stroke="#1a1a1a" stroke-width="1.3"/>
<line x1="1030.2" y1="990.1" x2="1042.3" y2="990.1" stroke="#000" stroke-width="2.7"/>
<line x1="1083.2" y1="960.2" x2="1083.2" y2="963" stroke="#1a1a1a" stroke-width="2"/>
<line x1="1080" y1="960.2" x2="1086.4" y2="960.2" stroke="#1a1a1a" stroke-width="2"/>
<line x1="1083.2" y1="1010.4" x2="1083.2" y2="1032.8" stroke="#1a1a1a" stroke-width="2"/>
<line x1="1080" y1="1032.8" x2="1086.4" y2="1032.8" stroke="#1a1a1a" stroke-width="2"/>
<rect x="1077" y="963" width="12.4" height="47.4" fill="#d4002f" stroke="#1a1a1a" stroke-width="1.3"/>
<line x1="1077" y1="989.8" x2="1089.4" y2="989.8" stroke="#000" stroke-width="2.7"/>
<line x1="1151" y1="963" x2="1151" y2="1043.2" stroke="#1a1a1a" stroke-width="2"/>
<line x1="1147.8" y1="963" x2="1154.2" y2="963" stroke="#1a1a1a" stroke-width="2"/>
<line x1="1151" y1="1153.5" x2="1151" y2="1164.5" stroke="#1a1a1a" stroke-width="2"/>
<line x1="1147.8" y1="1164.5" x2="1154.2" y2="1164.5" stroke="#1a1a1a" stroke-width="2"/>
<rect x="1144.8" y="1043.2" width="12.4" height="110.3" fill="#5596e6" stroke="#1a1a1a" stroke-width="1.3"/>
<line x1="1144.8" y1="1102.9" x2="1157.2" y2="1102.9" stroke="#000" stroke-width="2.7"/>
<line x1="1198.1" y1="972.6" x2="1198.1" y2="978.4" stroke="#1a1a1a" stroke-width="2"/>
<line x1="1194.9" y1="972.6" x2="1201.3" y2="972.6" stroke="#1a1a1a" stroke-width="2"/>
<line x1="1198.1" y1="999.1" x2="1198.1" y2="999.5" stroke="#1a1a1a" stroke-width="2"/>
<line x1="1194.9" y1="999.5" x2="1201.3" y2="999.5" stroke="#1a1a1a" stroke-width="2"/>
<rect x="1191.9" y="978.4" width="12.4" height="20.7" fill="#d4002f" stroke="#1a1a1a" stroke-width="1.3"/>
<line x1="1191.9" y1="990.8" x2="1204.3" y2="990.8" stroke="#000" stroke-width="2.7"/>
<line x1="1265.9" y1="958.8" x2="1265.9" y2="1023.5" stroke="#1a1a1a" stroke-width="2"/>
<line x1="1262.7" y1="958.8" x2="1269.1" y2="958.8" stroke="#1a1a1a" stroke-width="2"/>
<line x1="1265.9" y1="1187.9" x2="1265.9" y2="1258.4" stroke="#1a1a1a" stroke-width="2"/>
<line x1="1262.7" y1="1258.4" x2="1269.1" y2="1258.4" stroke="#1a1a1a" stroke-width="2"/>
<rect x="1259.7" y="1023.5" width="12.4" height="164.4" fill="#5596e6" stroke="#1a1a1a" stroke-width="1.3"/>
<line x1="1259.7" y1="1102.6" x2="1272.1" y2="1102.6" stroke="#000" stroke-width="2.7"/>
<line x1="1312.65" y1="972.5" x2="1312.65" y2="972.9" stroke="#1a1a1a" stroke-width="2"/>
<line x1="1309.45" y1="972.5" x2="1315.85" y2="972.5" stroke="#1a1a1a" stroke-width="2"/>
<rect x="1306.5" y="972.9" width="12.3" height="71.2" fill="#d4002f" stroke="#1a1a1a" stroke-width="1.3"/>
<line x1="1306.5" y1="1008" x2="1318.8" y2="1008" stroke="#000" stroke-width="2.7"/>
<line x1="1380.4" y1="884.9" x2="1380.4" y2="947.8" stroke="#1a1a1a" stroke-width="2"/>
<line x1="1377.2" y1="884.9" x2="1383.6" y2="884.9" stroke="#1a1a1a" stroke-width="2"/>
<line x1="1380.4" y1="1151.4" x2="1380.4" y2="1233" stroke="#1a1a1a" stroke-width="2"/>
<line x1="1377.2" y1="1233" x2="1383.6" y2="1233" stroke="#1a1a1a" stroke-width="2"/>
<rect x="1374.2" y="947.8" width="12.4" height="203.6" fill="#5596e6" stroke="#1a1a1a" stroke-width="1.3"/>
<line x1="1374.2" y1="1036.6" x2="1386.6" y2="1036.6" stroke="#000" stroke-width="2.7"/>
<line x1="1427.55" y1="914.8" x2="1427.55" y2="952.3" stroke="#1a1a1a" stroke-width="2"/>
<line x1="1424.35" y1="914.8" x2="1430.75" y2="914.8" stroke="#1a1a1a" stroke-width="2"/>
<line x1="1427.55" y1="1042.8" x2="1427.55" y2="1095.7" stroke="#1a1a1a" stroke-width="2"/>
<line x1="1424.35" y1="1095.7" x2="1430.75" y2="1095.7" stroke="#1a1a1a" stroke-width="2"/>
<rect x="1421.4" y="952.3" width="12.3" height="90.5" fill="#d4002f" stroke="#1a1a1a" stroke-width="1.3"/>
<line x1="1421.4" y1="989.4" x2="1433.7" y2="989.4" stroke="#000" stroke-width="2.7"/>
<line x1="1495.15" y1="1013.2" x2="1495.15" y2="1072.5" stroke="#1a1a1a" stroke-width="2"/>
<line x1="1491.95" y1="1013.2" x2="1498.35" y2="1013.2" stroke="#1a1a1a" stroke-width="2"/>
<line x1="1495.15" y1="1188.6" x2="1495.15" y2="1210.6" stroke="#1a1a1a" stroke-width="2"/>
<line x1="1491.95" y1="1210.6" x2="1498.35" y2="1210.6" stroke="#1a1a1a" stroke-width="2"/>
<rect x="1489.1" y="1072.5" width="12.1" height="116.1" fill="#5596e6" stroke="#1a1a1a" stroke-width="1.3"/>
<line x1="1489.1" y1="1147.3" x2="1501.2" y2="1147.3" stroke="#000" stroke-width="2.7"/>
<line x1="1542.1" y1="979.5" x2="1542.1" y2="1013.2" stroke="#1a1a1a" stroke-width="2"/>
<line x1="1538.9" y1="979.5" x2="1545.3" y2="979.5" stroke="#1a1a1a" stroke-width="2"/>
<line x1="1542.1" y1="1119.4" x2="1542.1" y2="1124.9" stroke="#1a1a1a" stroke-width="2"/>
<line x1="1538.9" y1="1124.9" x2="1545.3" y2="1124.9" stroke="#1a1a1a" stroke-width="2"/>
<rect x="1535.9" y="1013.2" width="12.4" height="106.2" fill="#d4002f" stroke="#1a1a1a" stroke-width="1.3"/>
<line x1="1535.9" y1="1101.2" x2="1548.3" y2="1101.2" stroke="#000" stroke-width="2.7"/>
<path d="M982.1 795.4 V1337.7 H1595.8" fill="none" stroke="#808080" stroke-width="1.9"/>
<text transform="translate(923.62 833.1) scale(0.8799 1)" font-family="'DejaVu Sans Condensed', 'Liberation Sans', sans-serif" font-size="22.2" font-weight="bold" letter-spacing="0.12" stroke="#fff" stroke-width="0.3" xml:space="preserve">60.00</text>
<text transform="translate(923.62 972.5) scale(0.8799 1)" font-family="'DejaVu Sans Condensed', 'Liberation Sans', sans-serif" font-size="22.2" font-weight="bold" letter-spacing="0.12" stroke="#fff" stroke-width="0.3" xml:space="preserve">50.00</text>
<text transform="translate(923.62 1111.9) scale(0.8799 1)" font-family="'DejaVu Sans Condensed', 'Liberation Sans', sans-serif" font-size="22.2" font-weight="bold" letter-spacing="0.12" stroke="#fff" stroke-width="0.3" xml:space="preserve">40.00</text>
<text transform="translate(923.62 1251.3) scale(0.8799 1)" font-family="'DejaVu Sans Condensed', 'Liberation Sans', sans-serif" font-size="22.2" font-weight="bold" letter-spacing="0.12" stroke="#fff" stroke-width="0.3" xml:space="preserve">30.00</text>
<text transform="translate(1036.82 1364.8) scale(0.9500 1)" font-family="'DejaVu Sans Condensed', 'Liberation Sans', sans-serif" font-size="21.9" font-weight="bold" letter-spacing="-0.59" stroke="#fff" stroke-width="0.3" xml:space="preserve">≤ 30</text>
<text transform="translate(1144.95 1364.8) scale(0.9500 1)" font-family="'DejaVu Sans Condensed', 'Liberation Sans', sans-serif" font-size="21.9" font-weight="bold" letter-spacing="0.81" stroke="#fff" stroke-width="0.3" xml:space="preserve">31-40</text>
<text transform="translate(1260.57 1364.8) scale(0.9500 1)" font-family="'DejaVu Sans Condensed', 'Liberation Sans', sans-serif" font-size="21.9" font-weight="bold" letter-spacing="0.72" stroke="#fff" stroke-width="0.3" xml:space="preserve">41-50</text>
<text transform="translate(1375.16 1364.8) scale(0.9500 1)" font-family="'DejaVu Sans Condensed', 'Liberation Sans', sans-serif" font-size="21.9" font-weight="bold" letter-spacing="0.88" stroke="#fff" stroke-width="0.3" xml:space="preserve">51-60</text>
<text transform="translate(1498.52 1364.8) scale(0.9500 1)" font-family="'DejaVu Sans Condensed', 'Liberation Sans', sans-serif" font-size="21.9" font-weight="bold" letter-spacing="-0.35" stroke="#fff" stroke-width="0.3" xml:space="preserve">≥61</text>
<text transform="translate(902.5 1089.56) rotate(-90) scale(1.1648 1)" font-family="'DejaVu Sans Condensed', 'Liberation Sans', sans-serif" font-size="31.81" font-weight="bold" stroke="#fff" stroke-width="0.35" xml:space="preserve">T2</text>
</g>
<path d="M1155.4 800.6 A2.2 9.5 0 0 1 1157.6 791.1 L1182.8 791.1 A2.2 9.8 0 0 0 1185 781.3 A2.2 9.8 0 0 0 1187.2 791.1 L1212.1 791.1 A2.2 9.5 0 0 1 1214.3 800.6" fill="none" stroke="#4f7fd0" stroke-width="0.9"/>
<text transform="translate(0 819.73) scale(1.0290 1)" font-family="'Liberation Sans', sans-serif" font-size="19.8" stroke="#000" stroke-width="0.35" stroke-linejoin="round" xml:space="preserve"><tspan x="1118.29" font-style="italic" textLength="10.74" lengthAdjust="spacingAndGlyphs">P</tspan><tspan x="1128.93" textLength="9.98" lengthAdjust="spacingAndGlyphs">=</tspan><tspan x="1137.49 1142.99 1152.93 1158.63 1169.61 1180.09"> 0.005</tspan></text>
<clipPath id="c5"><rect x="0" y="760" width="1680.6" height="140"/></clipPath>
<g clip-path="url(#c5)">
<text transform="translate(1604.64 821.9) scale(0.8800 1)" font-family="'DejaVu Sans Condensed', 'Liberation Sans', sans-serif" font-size="22.1" font-weight="bold" letter-spacing="-1.16" xml:space="preserve">GENDER</text>
<rect x="1607.1" y="835.4" width="14.2" height="16.2" fill="#5596e6" stroke="#1a1a1a" stroke-width="1.2"/>
<rect x="1607.1" y="856.6" width="14.2" height="15.4" fill="#d4002f" stroke="#1a1a1a" stroke-width="1.2"/>
<text transform="translate(1624.11 850.3) scale(0.8870 1)" font-family="'DejaVu Sans Condensed', 'Liberation Sans', sans-serif" font-size="17.8" stroke="#000" stroke-width="0.35" xml:space="preserve">Female</text>
<text transform="translate(1624.06 871) scale(0.9177 1)" font-family="'DejaVu Sans Condensed', 'Liberation Sans', sans-serif" font-size="17.8" stroke="#000" stroke-width="0.35" xml:space="preserve">Male</text>
</g>
<g>
<line x1="1831.3" y1="817.1" x2="2416" y2="817.1" stroke="#c3c3c3" stroke-width="1.9"/>
<line x1="1831.3" y1="914.62" x2="2416" y2="914.62" stroke="#c3c3c3" stroke-width="1.9"/>
<line x1="1831.3" y1="1012.14" x2="2416" y2="1012.14" stroke="#c3c3c3" stroke-width="1.9"/>
<line x1="1831.3" y1="1109.66" x2="2416" y2="1109.66" stroke="#c3c3c3" stroke-width="1.9"/>
<line x1="1831.3" y1="1207.18" x2="2416" y2="1207.18" stroke="#c3c3c3" stroke-width="1.9"/>
<line x1="1831.3" y1="1304.7" x2="2416" y2="1304.7" stroke="#c3c3c3" stroke-width="1.9"/>
<line x1="1883.1" y1="865.8" x2="1883.1" y2="883.3" stroke="#1a1a1a" stroke-width="2"/>
<line x1="1879.9" y1="865.8" x2="1886.3" y2="865.8" stroke="#1a1a1a" stroke-width="2"/>
<line x1="1883.1" y1="1110.5" x2="1883.1" y2="1190.5" stroke="#1a1a1a" stroke-width="2"/>
<line x1="1879.9" y1="1190.5" x2="1886.3" y2="1190.5" stroke="#1a1a1a" stroke-width="2"/>
<rect x="1877.4" y="883.3" width="11.4" height="227.2" fill="#5596e6" stroke="#1a1a1a" stroke-width="1.3"/>
<line x1="1877.4" y1="981.8" x2="1888.8" y2="981.8" stroke="#000" stroke-width="2.7"/>
<line x1="1927.8" y1="824.5" x2="1927.8" y2="846.4" stroke="#1a1a1a" stroke-width="2"/>
<line x1="1924.6" y1="824.5" x2="1931" y2="824.5" stroke="#1a1a1a" stroke-width="2"/>
<line x1="1927.8" y1="915.9" x2="1927.8" y2="928.3" stroke="#1a1a1a" stroke-width="2"/>
<line x1="1924.6" y1="928.3" x2="1931" y2="928.3" stroke="#1a1a1a" stroke-width="2"/>
<rect x="1922.1" y="846.4" width="11.4" height="69.5" fill="#d4002f" stroke="#1a1a1a" stroke-width="1.3"/>
<line x1="1922.1" y1="886" x2="1933.5" y2="886" stroke="#000" stroke-width="2.7"/>
<line x1="1992.3" y1="994.2" x2="1992.3" y2="1046.3" stroke="#1a1a1a" stroke-width="2"/>
<line x1="1989.1" y1="994.2" x2="1995.5" y2="994.2" stroke="#1a1a1a" stroke-width="2"/>
<line x1="1992.3" y1="1136.7" x2="1992.3" y2="1157.2" stroke="#1a1a1a" stroke-width="2"/>
<line x1="1989.1" y1="1157.2" x2="1995.5" y2="1157.2" stroke="#1a1a1a" stroke-width="2"/>
<rect x="1986.6" y="1046.3" width="11.4" height="90.4" fill="#5596e6" stroke="#1a1a1a" stroke-width="1.3"/>
<line x1="1986.6" y1="1103.4" x2="1998" y2="1103.4" stroke="#000" stroke-width="2.7"/>
<line x1="2037" y1="1165.6" x2="2037" y2="1211.6" stroke="#1a1a1a" stroke-width="2"/>
<line x1="2033.8" y1="1211.6" x2="2040.2" y2="1211.6" stroke="#1a1a1a" stroke-width="2"/>
<rect x="2031.3" y="1118.2" width="11.4" height="47.4" fill="#d4002f" stroke="#1a1a1a" stroke-width="1.3"/>
<line x1="2031.3" y1="1119.6" x2="2042.7" y2="1119.6" stroke="#000" stroke-width="2.7"/>
<line x1="2101.5" y1="997.9" x2="2101.5" y2="1043.9" stroke="#1a1a1a" stroke-width="2"/>
<line x1="2098.3" y1="997.9" x2="2104.7" y2="997.9" stroke="#1a1a1a" stroke-width="2"/>
<line x1="2101.5" y1="1179.4" x2="2101.5" y2="1180.4" stroke="#1a1a1a" stroke-width="2"/>
<line x1="2098.3" y1="1180.4" x2="2104.7" y2="1180.4" stroke="#1a1a1a" stroke-width="2"/>
<rect x="2095.8" y="1043.9" width="11.4" height="135.5" fill="#5596e6" stroke="#1a1a1a" stroke-width="1.3"/>
<line x1="2095.8" y1="1133.7" x2="2107.2" y2="1133.7" stroke="#000" stroke-width="2.7"/>
<rect x="2140.5" y="998.6" width="11.4" height="79.3" fill="#d4002f" stroke="#1a1a1a" stroke-width="1.3"/>
<line x1="2140.5" y1="1037.9" x2="2151.9" y2="1037.9" stroke="#000" stroke-width="2.7"/>
<line x1="2210.75" y1="989.2" x2="2210.75" y2="1040.9" stroke="#1a1a1a" stroke-width="2"/>
<line x1="2207.55" y1="989.2" x2="2213.95" y2="989.2" stroke="#1a1a1a" stroke-width="2"/>
<line x1="2210.75" y1="1099.7" x2="2210.75" y2="1157.2" stroke="#1a1a1a" stroke-width="2"/>
<line x1="2207.55" y1="1157.2" x2="2213.95" y2="1157.2" stroke="#1a1a1a" stroke-width="2"/>
<rect x="2205" y="1040.9" width="11.5" height="58.8" fill="#5596e6" stroke="#1a1a1a" stroke-width="1.3"/>
<line x1="2205" y1="1057" x2="2216.5" y2="1057" stroke="#000" stroke-width="2.7"/>
<line x1="2255.4" y1="1014.4" x2="2255.4" y2="1106.8" stroke="#1a1a1a" stroke-width="2"/>
<line x1="2252.2" y1="1014.4" x2="2258.6" y2="1014.4" stroke="#1a1a1a" stroke-width="2"/>
<line x1="2255.4" y1="1220.4" x2="2255.4" y2="1241.9" stroke="#1a1a1a" stroke-width="2"/>
<line x1="2252.2" y1="1241.9" x2="2258.6" y2="1241.9" stroke="#1a1a1a" stroke-width="2"/>
<rect x="2249.7" y="1106.8" width="11.4" height="113.6" fill="#d4002f" stroke="#1a1a1a" stroke-width="1.3"/>
<line x1="2249.7" y1="1198.2" x2="2261.1" y2="1198.2" stroke="#000" stroke-width="2.7"/>
<line x1="2319.95" y1="1006.6" x2="2319.95" y2="1080.6" stroke="#1a1a1a" stroke-width="2"/>
<line x1="2316.75" y1="1006.6" x2="2323.15" y2="1006.6" stroke="#1a1a1a" stroke-width="2"/>
<line x1="2319.95" y1="1210" x2="2319.95" y2="1239.2" stroke="#1a1a1a" stroke-width="2"/>
<line x1="2316.75" y1="1239.2" x2="2323.15" y2="1239.2" stroke="#1a1a1a" stroke-width="2"/>
<rect x="2314.2" y="1080.6" width="11.5" height="129.4" fill="#5596e6" stroke="#1a1a1a" stroke-width="1.3"/>
<line x1="2314.2" y1="1140.7" x2="2325.7" y2="1140.7" stroke="#000" stroke-width="2.7"/>
<line x1="2364.8" y1="969.3" x2="2364.8" y2="1021.4" stroke="#1a1a1a" stroke-width="2"/>
<line x1="2361.6" y1="969.3" x2="2368" y2="969.3" stroke="#1a1a1a" stroke-width="2"/>
<line x1="2364.8" y1="1164.3" x2="2364.8" y2="1175.3" stroke="#1a1a1a" stroke-width="2"/>
<line x1="2361.6" y1="1175.3" x2="2368" y2="1175.3" stroke="#1a1a1a" stroke-width="2"/>
<rect x="2359.3" y="1021.4" width="11" height="142.9" fill="#d4002f" stroke="#1a1a1a" stroke-width="1.3"/>
<line x1="2359.3" y1="1039.9" x2="2370.3" y2="1039.9" stroke="#000" stroke-width="2.7"/>
<circle cx="2210.7" cy="1202.9" r="3.6" fill="#fff" stroke="#1a1a1a" stroke-width="1.1"/>
<path d="M1831.3 790.2 V1332.3 H2416" fill="none" stroke="#787878" stroke-width="1.5"/>
<text transform="translate(1775.75 827.1) scale(0.8424 1)" font-family="'DejaVu Sans Condensed', 'Liberation Sans', sans-serif" font-size="21.7" font-weight="bold" letter-spacing="0.12" stroke="#fff" stroke-width="0.3" xml:space="preserve">1.600</text>
<text transform="translate(1775.75 924.62) scale(0.8424 1)" font-family="'DejaVu Sans Condensed', 'Liberation Sans', sans-serif" font-size="21.7" font-weight="bold" letter-spacing="0.12" stroke="#fff" stroke-width="0.3" xml:space="preserve">1.400</text>
<text transform="translate(1775.75 1022.14) scale(0.8424 1)" font-family="'DejaVu Sans Condensed', 'Liberation Sans', sans-serif" font-size="21.7" font-weight="bold" letter-spacing="0.12" stroke="#fff" stroke-width="0.3" xml:space="preserve">1.200</text>
<text transform="translate(1775.75 1119.66) scale(0.8424 1)" font-family="'DejaVu Sans Condensed', 'Liberation Sans', sans-serif" font-size="21.7" font-weight="bold" letter-spacing="0.12" stroke="#fff" stroke-width="0.3" xml:space="preserve">1.000</text>
<text transform="translate(1787.3 1217.18) scale(0.8424 1)" font-family="'DejaVu Sans Condensed', 'Liberation Sans', sans-serif" font-size="21.7" font-weight="bold" letter-spacing="0.12" stroke="#fff" stroke-width="0.3" xml:space="preserve">.800</text>
<text transform="translate(1787.3 1314.7) scale(0.8424 1)" font-family="'DejaVu Sans Condensed', 'Liberation Sans', sans-serif" font-size="21.7" font-weight="bold" letter-spacing="0.12" stroke="#fff" stroke-width="0.3" xml:space="preserve">.600</text>
<text transform="translate(1882.58 1359.8) scale(0.9200 1)" font-family="'DejaVu Sans Condensed', 'Liberation Sans', sans-serif" font-size="21.9" font-weight="bold" letter-spacing="-0.49" stroke="#fff" stroke-width="0.3" xml:space="preserve">≤ 30</text>
<text transform="translate(1986.39 1359.8) scale(0.9200 1)" font-family="'DejaVu Sans Condensed', 'Liberation Sans', sans-serif" font-size="21.9" font-weight="bold" letter-spacing="0.62" stroke="#fff" stroke-width="0.3" xml:space="preserve">31-40</text>
<text transform="translate(2095.99 1359.8) scale(0.9200 1)" font-family="'DejaVu Sans Condensed', 'Liberation Sans', sans-serif" font-size="21.9" font-weight="bold" letter-spacing="0.59" stroke="#fff" stroke-width="0.3" xml:space="preserve">41-50</text>
<text transform="translate(2205.6 1359.8) scale(0.9200 1)" font-family="'DejaVu Sans Condensed', 'Liberation Sans', sans-serif" font-size="21.9" font-weight="bold" letter-spacing="0.56" stroke="#fff" stroke-width="0.3" xml:space="preserve">51-60</text>
<text transform="translate(2323.38 1359.8) scale(0.9200 1)" font-family="'DejaVu Sans Condensed', 'Liberation Sans', sans-serif" font-size="21.9" font-weight="bold" letter-spacing="-0.68" stroke="#fff" stroke-width="0.3" xml:space="preserve">≥61</text>
<text transform="translate(1756.1 1099.16) rotate(-90) scale(1.1779 1)" font-family="'DejaVu Sans Condensed', 'Liberation Sans', sans-serif" font-size="31.14" font-weight="bold" stroke="#fff" stroke-width="0.35" xml:space="preserve">ADC</text>
</g>
<path d="M1880.8 793.6 A2.2 9.7 0 0 1 1883 783.9 L1908.1 783.9 A2.2 9.8 0 0 0 1910.3 774.1 A2.2 9.8 0 0 0 1912.5 783.9 L1937.4 783.9 A2.2 9.7 0 0 1 1939.6 793.6" fill="none" stroke="#4f7fd0" stroke-width="0.9"/>
<text transform="translate(0 812.43) scale(1.0290 1)" font-family="'Liberation Sans', sans-serif" font-size="19.8" stroke="#000" stroke-width="0.35" stroke-linejoin="round" xml:space="preserve"><tspan x="1821.86" font-style="italic" textLength="10.74" lengthAdjust="spacingAndGlyphs">P</tspan><tspan x="1832.5" textLength="9.98" lengthAdjust="spacingAndGlyphs">=</tspan><tspan x="1841.05 1846.55 1856.5 1862.2 1873.5 1884"> 0.044</tspan></text>
<g>
<text transform="translate(2424.24 816.1) scale(0.8800 1)" font-family="'DejaVu Sans Condensed', 'Liberation Sans', sans-serif" font-size="22.1" font-weight="bold" letter-spacing="-2" xml:space="preserve">GENDER</text>
<rect x="2427.1" y="830.2" width="13.1" height="15.1" fill="#5596e6" stroke="#1a1a1a" stroke-width="1.2"/>
<rect x="2427.1" y="850.7" width="13.1" height="15.5" fill="#d4002f" stroke="#1a1a1a" stroke-width="1.2"/>
<text transform="translate(2442.97 845) scale(0.8515 1)" font-family="'DejaVu Sans Condensed', 'Liberation Sans', sans-serif" font-size="17.8" stroke="#000" stroke-width="0.35" xml:space="preserve">Female</text>
<text transform="translate(2442.94 865.8) scale(0.8699 1)" font-family="'DejaVu Sans Condensed', 'Liberation Sans', sans-serif" font-size="17.8" stroke="#000" stroke-width="0.35" xml:space="preserve">Male</text>
</g>
</svg>
</body></html>
